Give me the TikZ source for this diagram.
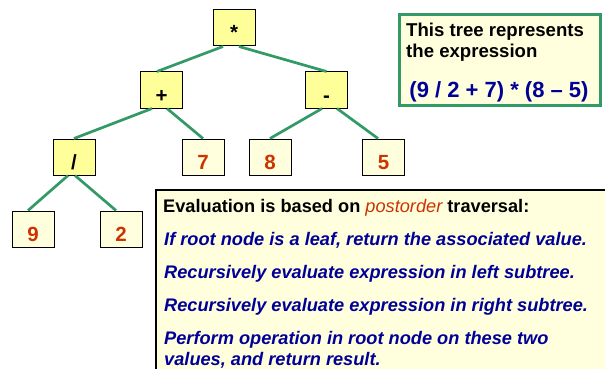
\documentclass[tikz,border=0pt]{standalone}
\usepackage{fontspec}
\setmainfont{Liberation Sans}
\usetikzlibrary{positioning}

\definecolor{opfill}{HTML}{FFFF99}
\definecolor{leaffill}{HTML}{FFFFDD}
\definecolor{edgegreen}{HTML}{339966}
\definecolor{numred}{HTML}{CC3300}
\definecolor{textblue}{HTML}{000099}

\begin{document}
\begin{tikzpicture}[x=1pt,y=-1pt,
    box/.style={draw=black,line width=1pt,minimum width=42pt,minimum height=36pt,
                inner sep=0pt,text height=24pt,text depth=0pt,
                font=\fontsize{20.5}{24}\selectfont\bfseries},
    op/.style={box,fill=opfill},
    leaf/.style={box,fill=leaffill,text=numred},
    tedge/.style={draw=edgegreen,line width=2.7pt},
    txt/.style={anchor=base west,inner sep=0pt,font=\fontsize{18.2}{21}\selectfont\bfseries},
    rule/.style={txt,text=textblue,font=\fontsize{18.2}{21}\selectfont\bfseries\itshape}]
  \useasboundingbox (0,0) rectangle (605,369);

  % expression tree
  \node[op]   (times) at (234,28)    {*};
  \node[op]   (plus)  at (161.5,90)  {+};
  \node[op]   (minus) at (326.5,90)  {-};
  \node[op]   (div)   at (74,157)    {/};
  \node[leaf] (seven) at (203,157)   {7};
  \node[leaf] (eight) at (270,157)   {8};
  \node[leaf] (five)  at (383.5,157) {5};
  \node[leaf] (nine)  at (33,229)    {9};
  \node[leaf] (two)   at (121,229)   {2};

  \path[tedge] ([xshift=-11pt]times.south) edge ([xshift=-4.5pt]plus.north)
               ([xshift=5pt]times.south)   edge (minus.north)
               ([xshift=-9.5pt]plus.south) edge (div.north)
               ([xshift=5.5pt]plus.south)  edge (seven.north)
               ([xshift=-4.5pt]minus.south) edge (eight.north)
               ([xshift=10.5pt]minus.south) edge ([xshift=-5.5pt]five.north)
               ([xshift=-6pt]div.south)    edge ([xshift=-5pt]nine.north)
               ([xshift=1pt]div.south)     edge ([xshift=-5pt]two.north);

  % note on the right
  \node[draw=edgegreen,line width=3pt,fill=leaffill,minimum width=201pt,
        minimum height=91pt,inner sep=0pt] (note) at (500,60) {};
  \node[txt,font=\fontsize{18.6}{22}\selectfont\bfseries] (note1) at (406,37) {This tree represents};
  \node[txt,font=\fontsize{18.6}{22}\selectfont\bfseries] (note2) at (406,58) {the expression};
  \node[txt,anchor=base,text=textblue,font=\fontsize{22}{26}\selectfont\bfseries]
        (expr) at (499,97) {(9 / 2 + 7) * (8 -- 5)};

  % evaluation box
  \fill[leaffill] (156,190) rectangle (605,369);
  \draw[line width=2.5pt] (156,369) -- (156,190) -- (605,190);
  \node[txt]  (head)   at (163,212) {Evaluation is based on
      {\color{numred}\mdseries\itshape postorder} traversal:};
  \node[rule] (leafr)  at (164,245) {If root node is a leaf, return the associated value.};
  \node[rule] (leftr)  at (164,278) {Recursively evaluate expression in left subtree.};
  \node[rule] (rightr) at (164,311) {Recursively evaluate expression in right subtree.};
  \node[rule] (oprA)   at (164,344) {Perform operation in root node on these two};
  \node[rule] (oprB)   at (164,365) {values, and return result.};
\end{tikzpicture}
\end{document}
